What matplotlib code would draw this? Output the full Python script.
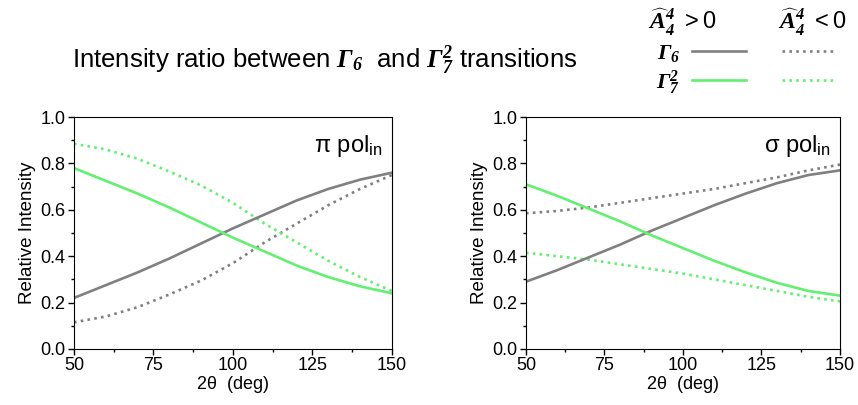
import matplotlib
matplotlib.use("Agg")
import matplotlib.pyplot as plt
from matplotlib.lines import Line2D

plt.rcParams['font.family'] = ['Liberation Sans', 'DejaVu Sans']
plt.rcParams['mathtext.fontset'] = 'custom'
plt.rcParams['mathtext.bf'] = 'Liberation Serif:bold:italic'
plt.rcParams['mathtext.rm'] = 'Liberation Sans'
plt.rcParams['mathtext.it'] = 'Liberation Sans:italic'

# scattering angle 2theta (deg)
angle = [50, 60, 70, 80, 90, 100, 110, 120, 130, 140, 150]

# pi polarisation
pi_g6_pos = [0.22, 0.275, 0.33, 0.39, 0.455, 0.52, 0.58, 0.64, 0.69, 0.73, 0.76]
pi_g7_pos = [0.78, 0.725, 0.67, 0.61, 0.545, 0.48, 0.42, 0.36, 0.31, 0.27, 0.24]
pi_g6_neg = [0.115, 0.14, 0.18, 0.235, 0.295, 0.37, 0.46, 0.54, 0.62, 0.69, 0.75]
pi_g7_neg = [0.885, 0.86, 0.82, 0.765, 0.705, 0.63, 0.54, 0.46, 0.38, 0.31, 0.25]

# sigma polarisation
sg_g6_pos = [0.29, 0.34, 0.395, 0.45, 0.51, 0.565, 0.62, 0.67, 0.715, 0.75, 0.77]
sg_g7_pos = [0.71, 0.66, 0.605, 0.55, 0.49, 0.435, 0.38, 0.33, 0.285, 0.25, 0.23]
sg_g6_neg = [0.585, 0.595, 0.61, 0.63, 0.65, 0.67, 0.69, 0.715, 0.74, 0.77, 0.795]
sg_g7_neg = [0.415, 0.40, 0.385, 0.365, 0.345, 0.325, 0.30, 0.275, 0.25, 0.225, 0.205]

gray = '#808080'
green = '#62F070'
lw = 1.9
dots = (0, (1, 1.6))

fig = plt.figure(figsize=(8.58, 4.05), dpi=100)
ax1 = fig.add_axes([0.0862, 0.1383, 0.3706, 0.5728])
ax2 = fig.add_axes([0.6130, 0.1383, 0.3660, 0.5728])


def panel(ax, g6p, g7p, g6n, g7n, label):
    ax.plot(angle, g6n, color=gray, lw=lw, ls=dots)
    ax.plot(angle, g7n, color=green, lw=lw, ls=dots)
    ax.plot(angle, g6p, color=gray, lw=lw)
    ax.plot(angle, g7p, color=green, lw=lw)
    ax.set_xlim(50, 150)
    ax.set_ylim(0, 1)
    ax.set_xticks([50, 75, 100, 125, 150])
    ax.set_xticks([62.5, 87.5, 112.5, 137.5], minor=True)
    ax.set_yticks([0, 0.2, 0.4, 0.6, 0.8, 1.0])
    ax.set_yticks([0.1, 0.3, 0.5, 0.7, 0.9], minor=True)
    ax.set_yticklabels(['0.0', '0.2', '0.4', '0.6', '0.8', '1.0'])
    ax.tick_params(which='major', direction='out', length=4, width=1, labelsize=13, pad=2)
    ax.tick_params(which='minor', direction='out', length=2.5, width=1)
    ax.set_xlabel(r'2$\mathrm{\theta}$  (deg)', fontsize=13, labelpad=0)
    ax.set_ylabel('Relative Intensity', fontsize=13.5, labelpad=3)
    ax.text(0.97, 0.93, label, transform=ax.transAxes, ha='right', va='top', fontsize=17)


panel(ax1, pi_g6_pos, pi_g7_pos, pi_g6_neg, pi_g7_neg, r'π pol$_{\mathrm{in}}$')
panel(ax2, sg_g6_pos, sg_g7_pos, sg_g6_neg, sg_g7_neg, r'σ pol$_{\mathrm{in}}$')

fig.text(0.084, 0.85, r'Intensity ratio between $\mathbf{\Gamma_6}$  and $\mathbf{\Gamma_7^2}$ transitions',
         fontsize=18.5, va='center', ha='left')

# legend
fig.text(0.795, 0.945, r'$\widehat{\mathbf{A}}_{\mathbf{4}}^{\mathbf{4}}$ $\mathit{>0}$', fontsize=17, ha='center', va='center')
fig.text(0.947, 0.945, r'$\widehat{\mathbf{A}}_{\mathbf{4}}^{\mathbf{4}}$ $\mathit{<0}$', fontsize=17, ha='center', va='center')
fig.text(0.779, 0.868, r'$\mathbf{\Gamma_6}$', fontsize=16, ha='center', va='center')
fig.text(0.779, 0.795, r'$\mathbf{\Gamma_7^2}$', fontsize=16, ha='center', va='center')
fig.add_artist(Line2D([0.807, 0.870], [0.874, 0.874], color=gray, lw=lw))
fig.add_artist(Line2D([0.912, 0.973], [0.874, 0.874], color=gray, lw=lw, ls=dots))
fig.add_artist(Line2D([0.807, 0.870], [0.802, 0.802], color=green, lw=lw))
fig.add_artist(Line2D([0.912, 0.973], [0.802, 0.802], color=green, lw=lw, ls=dots))

fig.savefig('out.png', dpi=100)
